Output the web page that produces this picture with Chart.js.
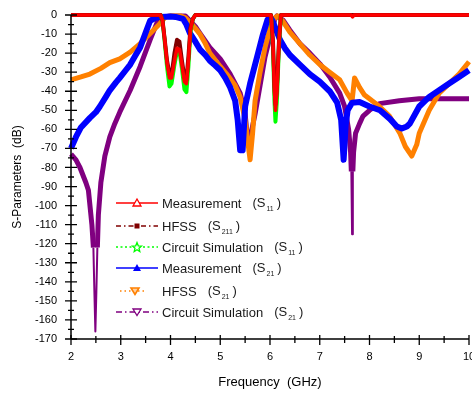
<!DOCTYPE html>
<html><head><meta charset="utf-8">
<script src="https://cdn.jsdelivr.net/npm/chart.js@4/dist/chart.umd.min.js"></script>
<style>
html,body{margin:0;padding:0;background:#fff;overflow:hidden}
#wrap{position:relative;width:472px;height:394px;overflow:hidden}
#legend{position:absolute;left:0;top:0;font-family:"Liberation Sans",Arial,sans-serif;font-size:13px;color:#1a1a1a}
.row{position:absolute;left:116px;height:20px;white-space:nowrap;display:flex;align-items:center}
.row svg{width:42px;height:14px;margin-right:4px;flex:none}
.row .s{margin-left:11px}
sub{font-size:7px;vertical-align:-4px;margin-left:1px;margin-right:3px}
</style></head><body>
<div id="wrap"><canvas id="c" width="472" height="394"></canvas>
<div id="legend">
 <div class="row" style="top:193px"><svg viewBox="0 0 42 14"><line x1="0" y1="7" x2="42" y2="7" stroke="#ff0000" stroke-width="1.5"/><polygon points="21,3 25,10 17,10" fill="#fff" stroke="#ff0000" stroke-width="1.3"/></svg><span>Measurement</span><span class="s">(S<sub>11</sub>)</span></div>
 <div class="row" style="top:216px"><svg viewBox="0 0 42 14"><line x1="0" y1="7" x2="42" y2="7" stroke="#800000" stroke-width="1.5" stroke-dasharray="5,3,1.5,3"/><rect x="18.5" y="4.5" width="5" height="5" fill="#800000"/></svg><span>HFSS</span><span class="s">(S<sub>211</sub>)</span></div>
 <div class="row" style="top:237px"><svg viewBox="0 0 42 14"><line x1="0" y1="7" x2="42" y2="7" stroke="#00ff00" stroke-width="1.5" stroke-dasharray="2,2.5"/><polygon points="21,2.5 22.3,5.8 25.5,6 23,8.2 23.8,11.5 21,9.7 18.2,11.5 19,8.2 16.5,6 19.7,5.8" fill="#fff" stroke="#00ff00" stroke-width="1.3"/></svg><span>Circuit Simulation</span><span class="s">(S<sub>11</sub>)</span></div>
 <div class="row" style="top:258px"><svg viewBox="0 0 42 14"><line x1="0" y1="7" x2="42" y2="7" stroke="#0000ff" stroke-width="1.5"/><polygon points="21,3 25,10 17,10" fill="#0000ff"/></svg><span>Measurement</span><span class="s">(S<sub>21</sub>)</span></div>
 <div class="row" style="top:281px"><svg viewBox="0 0 42 14"><line x1="4" y1="7" x2="30" y2="7" stroke="#ff8000" stroke-width="1.5" stroke-dasharray="1.5,3"/><polygon points="15,4 23,4 19,10.5" fill="#ffd0a0" stroke="#ff8000" stroke-width="1.6"/></svg><span>HFSS</span><span class="s">(S<sub>21</sub>)</span></div>
 <div class="row" style="top:302px"><svg viewBox="0 0 42 14"><line x1="0" y1="7" x2="42" y2="7" stroke="#800080" stroke-width="1.5" stroke-dasharray="6,3,1.5,3"/><polygon points="17,4 25,4 21,10.5" fill="#fff" stroke="#800080" stroke-width="1.3"/></svg><span>Circuit Simulation</span><span class="s">(S<sub>21</sub>)</span></div>
</div>
</div>
<script>
// ---- data (frequency in GHz, magnitude in dB) ----
const xTicks = [2, 3, 4, 5, 6, 7, 8, 9, 10];
const yTicks = [0, -10, -20, -30, -40, -50, -60, -70, -80, -90, -100, -110, -120, -130, -140, -150, -160, -170];

const measS11Freq = [2, 3.8, 3.84, 3.88, 3.93, 3.98, 4.02, 4.08, 4.13, 4.18, 4.23, 4.28, 4.32, 4.36, 4.4, 4.45, 4.5, 6.02, 6.06, 6.09, 6.11, 6.14, 6.18, 6.22, 7.63, 7.66, 7.69, 10];
const measS11dB   = [0, 0, -3, -12, -25, -33, -33, -24, -17.5, -18, -26, -35, -36, -24, -8, -2, 0, 0, -15, -40, -50, -40, -15, 0, 0, -1, 0, 0];

const hfssS11Freq = [2, 3.8, 3.84, 3.88, 3.93, 3.98, 4.03, 4.08, 4.13, 4.18, 4.23, 4.28, 4.32, 4.36, 4.4, 4.45, 4.5, 6.02, 6.06, 6.09, 6.11, 6.14, 6.18, 6.22, 10];
const hfssS11dB   = [0, 0, -3, -12, -24, -31, -30, -20, -13, -14, -24, -33, -34, -22, -7, -2, 0, 0, -14, -38, -47, -38, -14, 0, 0];

const circS11Freq = [2, 3.8, 3.84, 3.88, 3.93, 3.98, 4.02, 4.08, 4.13, 4.18, 4.23, 4.28, 4.32, 4.36, 4.4, 4.45, 4.5, 6.02, 6.06, 6.09, 6.11, 6.14, 6.18, 6.22, 10];
const circS11dB   = [0, 0, -3, -13, -27, -37.5, -36, -26, -19, -19, -28, -39, -40.5, -27, -9, -2, 0, 0, -17, -45, -56, -44, -16, 0, 0];

const measS21Freq = [2.0, 2.1, 2.2, 2.38, 2.5, 2.58, 2.7, 2.78, 2.9, 2.98, 3.1, 3.19, 3.3, 3.39, 3.49, 3.59, 3.7, 3.8, 4.0, 4.1, 4.25, 4.32, 4.39, 4.5, 4.59, 4.7, 4.79, 4.9, 5.0, 5.1, 5.2, 5.3, 5.35, 5.4, 5.45, 5.5, 5.6, 5.74, 5.86, 5.95, 6.0, 6.05, 6.2, 6.3, 6.4, 6.6, 6.8, 7.0, 7.2, 7.35, 7.43, 7.48, 7.52, 7.56, 7.65, 7.8, 8.0, 8.21, 8.41, 8.55, 8.65, 8.75, 8.81, 9.0, 9.2, 9.4, 9.6, 9.8, 10];
const measS21dB   = [-70, -64, -59, -54, -51, -48, -43, -39.5, -35.5, -33, -29, -26, -21, -17, -10, -3, -1.5, -1, -0.8, -1, -2, -5, -9.5, -14, -18, -21, -24, -26.5, -29, -33, -38, -45, -55, -71, -71, -48, -36, -22, -10, -2.5, -1, -3, -13, -17.5, -21, -26, -31, -35, -40, -46, -55, -76, -58, -50, -46, -45.6, -48, -50, -54.5, -58.5, -59.6, -58.5, -57, -48, -43, -39.5, -36, -32.5, -29];

const hfssS21Freq = [2.0, 2.2, 2.38, 2.6, 2.78, 2.98, 3.19, 3.39, 3.59, 3.79, 3.9, 4.0, 4.2, 4.3, 4.4, 4.5, 4.59, 4.7, 4.79, 5.0, 5.13, 5.3, 5.4, 5.5, 5.6, 5.65, 5.7, 5.8, 5.9, 6.0, 6.1, 6.15, 6.25, 6.4, 6.6, 6.8, 7.0, 7.2, 7.4, 7.55, 7.65, 7.7, 7.8, 7.9, 8.0, 8.2, 8.4, 8.61, 8.72, 8.85, 8.95, 9.0, 9.2, 9.4, 9.6, 9.8, 10];
const hfssS21dB   = [-34, -32.5, -31, -28, -25, -23, -19.5, -15, -9.7, -4.4, -1, -0.5, -0.5, -1.5, -4, -7, -10, -15, -20, -27, -31, -37, -43, -55, -76, -62, -45, -30, -17, -7, -1.5, -0.5, -3, -9, -15, -21, -26, -30, -34, -41, -45, -33, -38, -42, -44, -48, -53, -62, -69, -74, -68, -62, -50, -41, -36, -31, -24.5];

const circS21Freq = [2.0, 2.1, 2.18, 2.3, 2.35, 2.42, 2.45, 2.47, 2.49, 2.51, 2.53, 2.55, 2.6, 2.68, 2.78, 2.88, 2.98, 3.19, 3.39, 3.59, 3.73, 3.85, 4.0, 4.3, 4.39, 4.5, 4.59, 4.79, 5.0, 5.2, 5.4, 5.5, 5.56, 5.62, 5.7, 5.8, 5.9, 6.0, 6.1, 6.14, 6.26, 6.4, 6.6, 6.8, 7.0, 7.2, 7.4, 7.5, 7.58, 7.62, 7.635, 7.65, 7.665, 7.68, 7.72, 7.8, 7.87, 8.0, 8.2, 8.6, 9.0, 10];
const circS21dB   = [-73, -76, -80, -88, -92, -110, -122, -145, -166, -145, -122, -105, -88, -74, -64, -57, -51, -39.5, -27, -13, -4, -1, -0.5, -0.5, -3, -6, -9.5, -17, -23, -31, -41, -52, -68, -62, -52, -37, -22, -11.5, -2, -0.5, -2.6, -8, -15, -20, -25.5, -32.5, -41, -48, -60, -72, -82, -115, -82, -72, -62, -57, -53, -50, -46.5, -45, -44, -44];

const pts = (xs, ys) => xs.map((x, i) => ({x: x, y: ys[i]}));
const FONT = '"Liberation Sans", Arial, sans-serif';

const axisPlugin = {
  id: 'axes',
  afterDatasetsDraw(chart) {
    const {ctx, chartArea: a, scales: {x, y}} = chart;
    ctx.save();
    ctx.strokeStyle = '#000';
    ctx.lineWidth = 1.5;
    ctx.beginPath();
    ctx.moveTo(a.left, a.top); ctx.lineTo(a.left, a.bottom);
    ctx.moveTo(a.left, a.bottom); ctx.lineTo(a.right, a.bottom);
    ctx.stroke();
    ctx.lineWidth = 1.3;
    ctx.beginPath();
    for (let v = -170; v <= 0; v += 5) {
      const py = y.getPixelForValue(v);
      const major = v % 10 === 0;
      const out = major ? 6 : 3, inn = major ? 6 : 3;
      ctx.moveTo(a.left - out, py); ctx.lineTo(a.left + inn, py);
    }
    for (let v = 2; v <= 10; v += 0.5) {
      const px = x.getPixelForValue(v);
      const major = Number.isInteger(v);
      const out = major ? 6 : 4, inn = major ? 4 : 3;
      ctx.moveTo(px, a.bottom - inn); ctx.lineTo(px, a.bottom + out);
    }
    ctx.stroke();
    ctx.restore();
  }
};

// thin tails at the deepest parts of the circuit-simulation S21 notches
const thinTail = c => {
  const m = Math.max(c.p0.parsed.y, c.p1.parsed.y);
  return (m < -120 || (c.p0.parsed.x > 7 && m < -81)) ? 2 : undefined;
};

new Chart(document.getElementById('c'), {
  type: 'line',
  data: {
    datasets: [
      {label: 'Measurement (S11)', data: pts(measS11Freq, measS11dB), borderColor: '#ff0000', borderWidth: 3.5},
      {label: 'HFSS (S211)', data: pts(hfssS11Freq, hfssS11dB), borderColor: '#800000', borderWidth: 4},
      {label: 'Circuit Simulation (S11)', data: pts(circS11Freq, circS11dB), borderColor: '#00ff00', borderWidth: 4},
      {label: 'Measurement (S21)', data: pts(measS21Freq, measS21dB), borderColor: '#0000ff', borderWidth: 6},
      {label: 'HFSS (S21)', data: pts(hfssS21Freq, hfssS21dB), borderColor: '#ff8000', borderWidth: 5},
      {label: 'Circuit Simulation (S21)', data: pts(circS21Freq, circS21dB), borderColor: '#800080', borderWidth: 5, segment: {borderWidth: thinTail}}
    ].map(d => Object.assign(d, {pointRadius: 0, fill: false, tension: 0, clip: 8, borderJoinStyle: 'round'}))
  },
  options: {
    responsive: false,
    animation: false,
    devicePixelRatio: 1,
    layout: {padding: {top: 15, right: 3, bottom: 0, left: 0}},
    plugins: {legend: {display: false}, tooltip: {enabled: false}},
    scales: {
      x: {
        type: 'linear', min: 2, max: 10,
        afterBuildTicks: s => { s.ticks = xTicks.map(v => ({value: v})); },
        ticks: {font: {size: 11, family: FONT}, color: '#000', padding: 11, maxRotation: 0, autoSkip: false},
        grid: {display: false, drawTicks: false},
        border: {display: false},
        title: {display: true, text: 'Frequency  (GHz)', font: {size: 13, family: FONT}, color: '#000', padding: {top: 0, bottom: 4}},
        afterFit: s => { s.paddingLeft = 0; s.paddingRight = 0; s.height = 55; }
      },
      y: {
        type: 'linear', min: -170, max: 0,
        afterBuildTicks: s => { s.ticks = yTicks.map(v => ({value: v})); },
        ticks: {font: {size: 11, family: FONT}, color: '#000', padding: 14, autoSkip: false},
        grid: {display: false, drawTicks: false},
        border: {display: false},
        title: {display: true, text: 'S-Parameters  (dB)', font: {size: 12, family: FONT}, color: '#000', padding: {top: 10, bottom: 0}},
        afterFit: s => { s.paddingTop = 0; s.paddingBottom = 0; s.width = 71; }
      }
    }
  },
  plugins: [axisPlugin]
});
</script>
</body></html>
